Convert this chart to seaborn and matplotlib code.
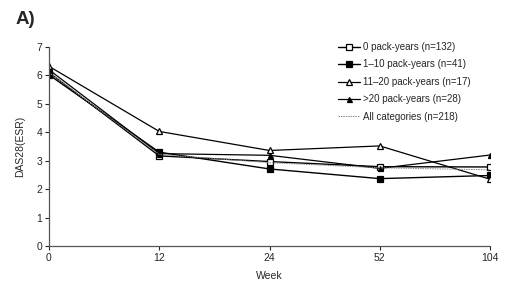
import matplotlib
matplotlib.use("Agg")
import matplotlib.pyplot as plt
import seaborn as sns
import pandas as pd

weeks = ["0", "12", "24", "52", "104"]
series_names = ["0 pack-years (n=132)", "1\u201310 pack-years (n=41)",
                "11\u201320 pack-years (n=17)", ">20 pack-years (n=28)",
                "All categories (n=218)"]
v0 = [6.10, 3.17, 2.97, 2.79, 2.78]
v1_10 = [6.02, 3.30, 2.71, 2.37, 2.48]
v11_20 = [6.32, 4.03, 3.36, 3.52, 2.35]
v20 = [6.20, 3.25, 3.19, 2.73, 3.20]
vall = [6.10, 3.22, 2.93, 2.75, 2.68]

values = [v0, v1_10, v11_20, v20, vall]

sns.set_style("white")
plt.rcParams['font.family'] = ['Liberation Sans', 'DejaVu Sans']

fig = plt.figure(figsize=(5.21, 2.87), dpi=100)
ax = fig.add_axes([49/521, 1-246/287, (490-49)/521, (246-47)/287])

styles = [
    dict(marker="s", mfc="white", ms=4.3, color="black", lw=1.0, ls="-"),
    dict(marker="s", mfc="black", ms=4.3, color="black", lw=1.0, ls="-"),
    dict(marker="^", mfc="white", ms=5, color="black", lw=0.9, ls="-"),
    dict(marker="^", mfc="black", ms=3.6, color="black", lw=0.9, ls="-"),
    dict(marker=None, color="#888888", lw=0.7, ls=(0, (1.5, 1))),
]

for name, vals, st in zip(series_names, values, styles):
    df = pd.DataFrame({"Week": weeks, "val": vals})
    kw = dict(st)
    marker = kw.pop("marker")
    mfc = kw.pop("mfc", None)
    ms = kw.pop("ms", None)
    ls = kw.pop("ls")
    line_kws = dict(linestyle=ls, linewidth=kw["lw"])
    if marker:
        line_kws.update(marker=marker, markerfacecolor=mfc, markeredgecolor="black",
                        markersize=ms, markeredgewidth=0.9)
    sns.lineplot(data=df, x="Week", y="val", ax=ax, color=kw["color"],
                 label=name, sort=False, **line_kws)

ax.set_ylim(0, 7)
ax.set_yticks(range(0, 8))
ax.set_xlim(0, len(weeks) - 1)
ax.set_xlabel("Week", fontsize=7.5, labelpad=6)
ax.set_ylabel("DAS28(ESR)", fontsize=7.5, labelpad=8)
ax.tick_params(axis="both", labelsize=7.5, length=3, width=0.8, direction="out",
               bottom=True, left=True, pad=2)
for s in ["top", "right"]:
    ax.spines[s].set_visible(False)
for s in ["left", "bottom"]:
    ax.spines[s].set_color("#555555")
    ax.spines[s].set_linewidth(0.9)

leg = ax.legend(loc="upper left", bbox_to_anchor=(0.646, 1.045), frameon=False,
                fontsize=7, handlelength=2.25, handletextpad=0.3,
                labelspacing=0.77, borderaxespad=0)

fig.text(16/521, 1-20/287, "A)", fontsize=13.5, fontweight="bold", va="center", ha="left")

fig.savefig("out.png", dpi=100)
